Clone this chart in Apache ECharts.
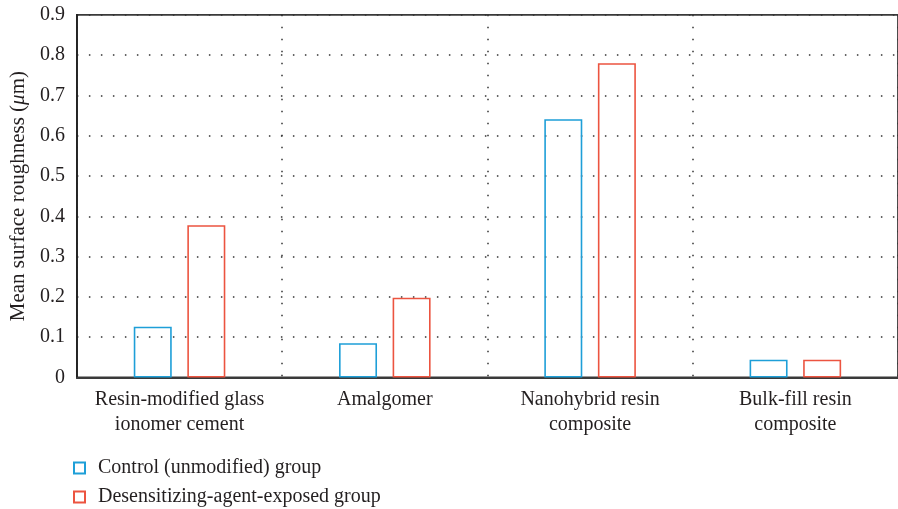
<!DOCTYPE html>
<html>
<head>
<meta charset="utf-8">
<script src="https://cdn.jsdelivr.net/npm/echarts@6/dist/echarts.min.js"></script>
<style>
html,body{margin:0;padding:0;background:#fff;}
#chart{width:898px;height:509px;}
</style>
</head>
<body>
<div id="chart"></div>
<script>
var categories = ['Resin-modified glass\nionomer cement', 'Amalgomer', 'Nanohybrid resin\ncomposite', 'Bulk-fill resin\ncomposite'];
var controlValues = [0.126, 0.085, 0.641, 0.044];
var exposedValues = [0.378, 0.198, 0.780, 0.044];
var seriesNames = ['Control (unmodified) group', 'Desensitizing-agent-exposed group'];
var yTicks = [0, 0.1, 0.2, 0.3, 0.4, 0.5, 0.6, 0.7, 0.8, 0.9];

var FONT = 'Liberation Serif';
var TXT = '#231f20';
var chart = echarts.init(document.getElementById('chart'), null, {renderer: 'canvas'});
var dotted = {color: '#333', width: 1.5, type: [1.5, 10.5]};
function legendFor(name, top) {
  return {
    orient: 'vertical', left: 73, top: top, padding: 0,
    itemWidth: 11, itemHeight: 11,
    icon: 'rect',
    textStyle: {fontFamily: FONT, fontSize: 20, color: TXT, lineHeight: 20, padding: [0, 0, 0, 8]},
    data: [name]
  };
}
chart.setOption({
  animation: false,
  backgroundColor: '#fff',
  grid: {left: 73, top: 14.8, width: 834.8, height: 362.7, show: true, borderColor: '#3a3a3a', borderWidth: 1.8, backgroundColor: 'transparent'},
  legend: [legendFor(seriesNames[0], 458), legendFor(seriesNames[1], 487)],
  xAxis: {
    type: 'category', data: categories,
    axisLine: {show: true, lineStyle: {color: '#3a3a3a', width: 1.8}},
    axisTick: {show: false},
    splitLine: {show: true, interval: 0, lineStyle: dotted},
    axisLabel: {interval: 0, fontFamily: FONT, fontSize: 20, color: TXT, lineHeight: 25, margin: 10}
  },
  yAxis: {
    type: 'value', min: yTicks[0], max: yTicks[yTicks.length - 1], interval: 0.1,
    axisLine: {show: true, lineStyle: {color: '#222', width: 1.8}},
    axisTick: {show: false},
    splitLine: {show: true, lineStyle: dotted},
    axisLabel: {fontFamily: FONT, fontSize: 20, color: TXT, margin: 12,
      formatter: function (v) { return String(Math.round(v * 10) / 10); }},
    name: '{a|Mean surface roughness (}{i|μ}{a|m)}',
    nameLocation: 'middle', nameGap: 47, nameRotate: 90,
    nameTextStyle: {
      rich: {
        a: {fontFamily: FONT, fontSize: 21, color: TXT},
        i: {fontFamily: FONT, fontSize: 21, color: TXT, fontStyle: 'italic'}
      }
    }
  },
  series: [
    {name: seriesNames[0], type: 'bar', data: controlValues, barWidth: 38, barGap: '41%',
     itemStyle: {color: 'rgba(255,255,255,0)', borderColor: '#1e9fd8', borderWidth: 1.6}},
    {name: seriesNames[1], type: 'bar', data: exposedValues, barWidth: 38, barGap: '41%',
     itemStyle: {color: 'rgba(255,255,255,0)', borderColor: '#ec5440', borderWidth: 1.6}}
  ]
});
</script>
</body>
</html>
